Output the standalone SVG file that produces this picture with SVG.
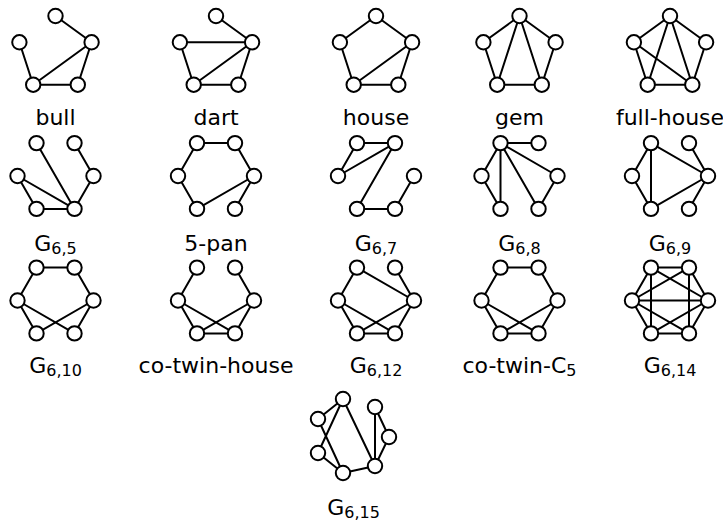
<svg xmlns="http://www.w3.org/2000/svg" width="723" height="523" viewBox="0 0 723 523">
<style>
.e{stroke:#000;stroke-width:2;fill:none}
.n{fill:#fff;stroke:#000;stroke-width:2}
.l{font-family:"DejaVu Sans",sans-serif;font-size:22px;text-anchor:middle;fill:#000}
.s{font-size:16px}
</style>
<rect width="723" height="523" fill="#fff"/>
<g id="connectors" class="e">
<!-- bull -->
<path d="M55.5,16L91.6,42.3M19.4,42.3L33.2,84.7M91.6,42.3L33.2,84.7M91.6,42.3L77.8,84.7M33.2,84.7L77.8,84.7"/>
<!-- dart -->
<path d="M216,16L252.1,42.3M179.9,42.3L252.1,42.3M179.9,42.3L193.7,84.7M252.1,42.3L193.7,84.7M252.1,42.3L238.3,84.7M193.7,84.7L238.3,84.7"/>
<!-- house -->
<path d="M376,16L339.9,42.3M376,16L412.1,42.3M339.9,42.3L353.7,84.7M412.1,42.3L353.7,84.7M412.1,42.3L398.3,84.7M353.7,84.7L398.3,84.7"/>
<!-- gem -->
<path d="M519.5,16L483.4,42.3M519.5,16L555.6,42.3M519.5,16L497.2,84.7M519.5,16L541.8,84.7M483.4,42.3L497.2,84.7M555.6,42.3L541.8,84.7M497.2,84.7L541.8,84.7"/>
<!-- full-house -->
<path d="M670,16L633.9,42.3M670,16L706.1,42.3M670,16L647.7,84.7M670,16L692.3,84.7M633.9,42.3L647.7,84.7M633.9,42.3L692.3,84.7M706.1,42.3L692.3,84.7M647.7,84.7L692.3,84.7"/>
<!-- G6,5 -->
<path d="M36.5,143.1L74.5,208.9M74.5,143.1L93.5,176M93.5,176L74.5,208.9M17.5,176L36.5,208.9M17.5,176L74.5,208.9M36.5,208.9L74.5,208.9"/>
<!-- 5-pan -->
<path d="M197,143.1L235,143.1M197,143.1L178,176M178,176L197,208.9M197,208.9L254,176M235,143.1L254,176M254,176L235,208.9"/>
<!-- G6,7 -->
<path d="M357,143.1L395,143.1M357,143.1L338,176M338,176L395,143.1M395,143.1L357,208.9M357,208.9L395,208.9M395,208.9L414,176"/>
<!-- G6,8 -->
<path d="M500.5,143.1L538.5,143.1M500.5,143.1L481.5,176M500.5,143.1L500.5,208.9M500.5,143.1L538.5,208.9M500.5,143.1L557.5,176M481.5,176L500.5,208.9M557.5,176L538.5,208.9"/>
<!-- G6,9 -->
<path d="M651,143.1L632,176M651,143.1L651,208.9M651,143.1L708,176M632,176L651,208.9M651,208.9L708,176M689,143.1L708,176M689,208.9L708,176"/>
<!-- G6,10 -->
<path d="M36.5,267.6L74.5,267.6M36.5,267.6L17.5,300.5M74.5,267.6L93.5,300.5M17.5,300.5L36.5,333.4M17.5,300.5L74.5,333.4M93.5,300.5L36.5,333.4M93.5,300.5L74.5,333.4"/>
<!-- co-twin-house -->
<path d="M197,267.6L178,300.5M235,267.6L254,300.5M178,300.5L197,333.4M178,300.5L235,333.4M254,300.5L197,333.4M254,300.5L235,333.4M197,333.4L235,333.4"/>
<!-- G6,12 -->
<path d="M357,267.6L338,300.5M357,267.6L414,300.5M395,267.6L414,300.5M338,300.5L357,333.4M338,300.5L395,333.4M414,300.5L357,333.4M414,300.5L395,333.4M357,333.4L395,333.4"/>
<!-- co-twin-C5 -->
<path d="M500.5,267.6L538.5,267.6M500.5,267.6L481.5,300.5M538.5,267.6L557.5,300.5M481.5,300.5L500.5,333.4M481.5,300.5L538.5,333.4M557.5,300.5L500.5,333.4M557.5,300.5L538.5,333.4M500.5,333.4L538.5,333.4"/>
<!-- G6,14 -->
<path d="M651,267.6L689,267.6M651,267.6L632,300.5M689,267.6L708,300.5M632,300.5L651,333.4M708,300.5L689,333.4M651,333.4L689,333.4M651,267.6L651,333.4M689,267.6L689,333.4M632,300.5L708,300.5M632,300.5L689,267.6M651,267.6L708,300.5M632,300.5L689,333.4M651,333.4L708,300.5"/>
<!-- G6,15 -->
<path d="M318,419L343,399M343,399L318,453M318,419L343,473M318,453L343,473M343,399L375,466M343,473L375,466M375,407L375,466M375,407L389,437M389,437L375,466"/>
</g>
<g id="bull">
<circle class="n" cx="55.5" cy="16" r="7.2"/><circle class="n" cx="19.4" cy="42.3" r="7.2"/><circle class="n" cx="91.6" cy="42.3" r="7.2"/><circle class="n" cx="33.2" cy="84.7" r="7.2"/><circle class="n" cx="77.8" cy="84.7" r="7.2"/>
<text class="l" x="55.5" y="125">bull</text>
</g>
<g id="dart">
<circle class="n" cx="216" cy="16" r="7.2"/><circle class="n" cx="179.9" cy="42.3" r="7.2"/><circle class="n" cx="252.1" cy="42.3" r="7.2"/><circle class="n" cx="193.7" cy="84.7" r="7.2"/><circle class="n" cx="238.3" cy="84.7" r="7.2"/>
<text class="l" x="216" y="125">dart</text>
</g>
<g id="house">
<circle class="n" cx="376" cy="16" r="7.2"/><circle class="n" cx="339.9" cy="42.3" r="7.2"/><circle class="n" cx="412.1" cy="42.3" r="7.2"/><circle class="n" cx="353.7" cy="84.7" r="7.2"/><circle class="n" cx="398.3" cy="84.7" r="7.2"/>
<text class="l" x="376" y="125">house</text>
</g>
<g id="gem">
<circle class="n" cx="519.5" cy="16" r="7.2"/><circle class="n" cx="483.4" cy="42.3" r="7.2"/><circle class="n" cx="555.6" cy="42.3" r="7.2"/><circle class="n" cx="497.2" cy="84.7" r="7.2"/><circle class="n" cx="541.8" cy="84.7" r="7.2"/>
<text class="l" x="519.5" y="125">gem</text>
</g>
<g id="full-house">
<circle class="n" cx="670" cy="16" r="7.2"/><circle class="n" cx="633.9" cy="42.3" r="7.2"/><circle class="n" cx="706.1" cy="42.3" r="7.2"/><circle class="n" cx="647.7" cy="84.7" r="7.2"/><circle class="n" cx="692.3" cy="84.7" r="7.2"/>
<text class="l" x="670" y="125">full-house</text>
</g>
<g id="G6_5">
<circle class="n" cx="36.5" cy="143.1" r="7.2"/><circle class="n" cx="74.5" cy="143.1" r="7.2"/><circle class="n" cx="17.5" cy="176" r="7.2"/><circle class="n" cx="93.5" cy="176" r="7.2"/><circle class="n" cx="36.5" cy="208.9" r="7.2"/><circle class="n" cx="74.5" cy="208.9" r="7.2"/>
<text class="l" x="55.5" y="251">G<tspan class="s" dy="3">6,5</tspan></text>
</g>
<g id="pan5">
<circle class="n" cx="197" cy="143.1" r="7.2"/><circle class="n" cx="235" cy="143.1" r="7.2"/><circle class="n" cx="178" cy="176" r="7.2"/><circle class="n" cx="254" cy="176" r="7.2"/><circle class="n" cx="197" cy="208.9" r="7.2"/><circle class="n" cx="235" cy="208.9" r="7.2"/>
<text class="l" x="216" y="251">5-pan</text>
</g>
<g id="G6_7">
<circle class="n" cx="357" cy="143.1" r="7.2"/><circle class="n" cx="395" cy="143.1" r="7.2"/><circle class="n" cx="338" cy="176" r="7.2"/><circle class="n" cx="414" cy="176" r="7.2"/><circle class="n" cx="357" cy="208.9" r="7.2"/><circle class="n" cx="395" cy="208.9" r="7.2"/>
<text class="l" x="376" y="251">G<tspan class="s" dy="3">6,7</tspan></text>
</g>
<g id="G6_8">
<circle class="n" cx="500.5" cy="143.1" r="7.2"/><circle class="n" cx="538.5" cy="143.1" r="7.2"/><circle class="n" cx="481.5" cy="176" r="7.2"/><circle class="n" cx="557.5" cy="176" r="7.2"/><circle class="n" cx="500.5" cy="208.9" r="7.2"/><circle class="n" cx="538.5" cy="208.9" r="7.2"/>
<text class="l" x="519.5" y="251">G<tspan class="s" dy="3">6,8</tspan></text>
</g>
<g id="G6_9">
<circle class="n" cx="651" cy="143.1" r="7.2"/><circle class="n" cx="689" cy="143.1" r="7.2"/><circle class="n" cx="632" cy="176" r="7.2"/><circle class="n" cx="708" cy="176" r="7.2"/><circle class="n" cx="651" cy="208.9" r="7.2"/><circle class="n" cx="689" cy="208.9" r="7.2"/>
<text class="l" x="670" y="251">G<tspan class="s" dy="3">6,9</tspan></text>
</g>
<g id="G6_10">
<circle class="n" cx="36.5" cy="267.6" r="7.2"/><circle class="n" cx="74.5" cy="267.6" r="7.2"/><circle class="n" cx="17.5" cy="300.5" r="7.2"/><circle class="n" cx="93.5" cy="300.5" r="7.2"/><circle class="n" cx="36.5" cy="333.4" r="7.2"/><circle class="n" cx="74.5" cy="333.4" r="7.2"/>
<text class="l" x="55.5" y="373">G<tspan class="s" dy="3">6,10</tspan></text>
</g>
<g id="co-twin-house">
<circle class="n" cx="197" cy="267.6" r="7.2"/><circle class="n" cx="235" cy="267.6" r="7.2"/><circle class="n" cx="178" cy="300.5" r="7.2"/><circle class="n" cx="254" cy="300.5" r="7.2"/><circle class="n" cx="197" cy="333.4" r="7.2"/><circle class="n" cx="235" cy="333.4" r="7.2"/>
<text class="l" x="216" y="373">co-twin-house</text>
</g>
<g id="G6_12">
<circle class="n" cx="357" cy="267.6" r="7.2"/><circle class="n" cx="395" cy="267.6" r="7.2"/><circle class="n" cx="338" cy="300.5" r="7.2"/><circle class="n" cx="414" cy="300.5" r="7.2"/><circle class="n" cx="357" cy="333.4" r="7.2"/><circle class="n" cx="395" cy="333.4" r="7.2"/>
<text class="l" x="376" y="373">G<tspan class="s" dy="3">6,12</tspan></text>
</g>
<g id="co-twin-C5">
<circle class="n" cx="500.5" cy="267.6" r="7.2"/><circle class="n" cx="538.5" cy="267.6" r="7.2"/><circle class="n" cx="481.5" cy="300.5" r="7.2"/><circle class="n" cx="557.5" cy="300.5" r="7.2"/><circle class="n" cx="500.5" cy="333.4" r="7.2"/><circle class="n" cx="538.5" cy="333.4" r="7.2"/>
<text class="l" x="519.5" y="373">co-twin-C<tspan class="s" dy="3">5</tspan></text>
</g>
<g id="G6_14">
<circle class="n" cx="651" cy="267.6" r="7.2"/><circle class="n" cx="689" cy="267.6" r="7.2"/><circle class="n" cx="632" cy="300.5" r="7.2"/><circle class="n" cx="708" cy="300.5" r="7.2"/><circle class="n" cx="651" cy="333.4" r="7.2"/><circle class="n" cx="689" cy="333.4" r="7.2"/>
<text class="l" x="670" y="373">G<tspan class="s" dy="3">6,14</tspan></text>
</g>
<g id="G6_15">
<circle class="n" cx="343" cy="399" r="7.2"/><circle class="n" cx="318" cy="419" r="7.2"/><circle class="n" cx="318" cy="453" r="7.2"/><circle class="n" cx="343" cy="473" r="7.2"/><circle class="n" cx="375" cy="466" r="7.2"/><circle class="n" cx="375" cy="407" r="7.2"/><circle class="n" cx="389" cy="437" r="7.2"/>
<text class="l" x="353.5" y="515">G<tspan class="s" dy="3">6,15</tspan></text>
</g>
</svg>
